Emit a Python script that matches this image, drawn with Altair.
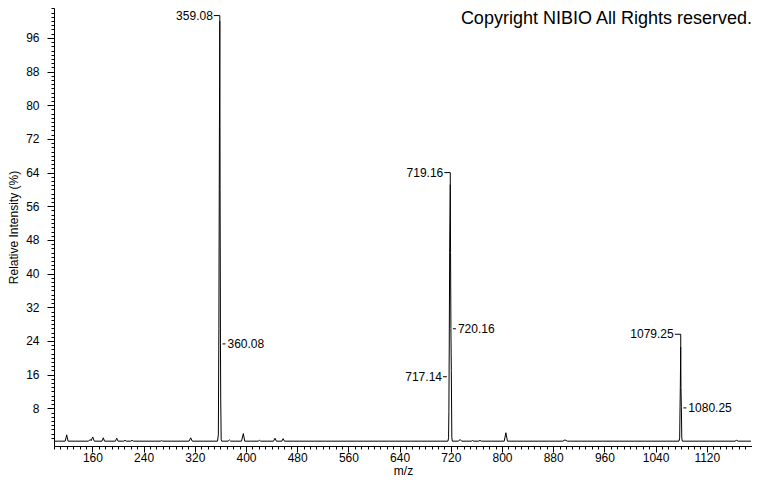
import altair as alt
import pandas as pd

# Spectrum vertices (m/z, relative intensity %)
mz = [
    101, 117.5, 119.8, 122,
    154, 156.5, 158, 160.5, 163,
    175, 177, 179,
    196, 198, 200,
    209, 211, 213,
    220, 222, 224,
    266, 268, 270,
    311, 313.5, 316,
    355.5, 356.8, 357.6, 358.5, 359.08, 359.5, 360.08, 360.5, 361.2, 362,
    372, 374, 376,
    393, 395.8, 398,
    419, 421, 423,
    443, 445.3, 447.5,
    456, 458, 460,
    715.5, 716.5, 717.0, 717.6, 718.3, 719.16, 719.6, 720.16, 720.8, 721.6, 722.4,
    732, 734.4, 737,
    752, 754, 756,
    763, 765.6, 768,
    803.5, 806, 808.5,
    895, 898.4, 902,
    1076.5, 1077.6, 1078.2, 1078.6, 1079.25, 1079.6, 1080.25, 1080.9, 1081.6,
    1164, 1166.7, 1169,
    1189,
]
intensity = [
    0.2, 0.2, 1.7, 0.2,
    0.2, 0.6, 0.3, 1.2, 0.2,
    0.2, 1.0, 0.2,
    0.2, 0.9, 0.2,
    0.2, 0.4, 0.2,
    0.2, 0.4, 0.2,
    0.2, 0.3, 0.2,
    0.2, 1.0, 0.2,
    0.2, 1.7, 27, 75, 100, 60, 23.3, 10, 0.5, 0.2,
    0.2, 0.5, 0.2,
    0.2, 2.0, 0.2,
    0.2, 0.4, 0.2,
    0.2, 0.9, 0.2,
    0.2, 0.8, 0.2,
    0.2, 1.0, 7.3, 24, 48, 61.2, 45, 26.9, 17, 1.0, 0.2,
    0.2, 0.6, 0.2,
    0.2, 0.35, 0.2,
    0.2, 0.35, 0.2,
    0.2, 2.2, 0.2,
    0.2, 0.5, 0.2,
    0.2, 1.0, 8.5, 13, 22.6, 13, 8.1, 1.0, 0.2,
    0.2, 0.4, 0.2,
    0.2,
]

# Peak labels
top_label_text = ["359.08", "719.16", "1079.25"]
top_label_mz = [359.08, 719.16, 1079.25]
top_label_level = [101.3, 64.0, 25.6]
top_label_peak = [100.0, 61.2, 22.6]

right_label_text = ["360.08", "720.16", "1080.25"]
right_label_mz = [360.08, 720.16, 1080.25]
right_label_level = [23.3, 26.9, 8.1]

left_label_text = ["717.14"]
left_label_mz = [717.14]
left_label_level = [15.5]

# Axis ticks
x_major = [160, 240, 320, 400, 480, 560, 640, 720, 800, 880, 960, 1040, 1120]
x_minor = list(range(100, 1191, 10))
y_major = [8, 16, 24, 32, 40, 48, 56, 64, 72, 80, 88, 96]
y_minor = list(range(1, 104))

x_domain = [100, 1190.6]
y_domain = [-0.95, 103.1]

FONT = "Liberation Sans"

spec_df = pd.DataFrame({"mz": mz, "intensity": intensity})
top_df = pd.DataFrame({"text": top_label_text, "mz": top_label_mz,
                       "level": top_label_level, "peak": top_label_peak})
right_df = pd.DataFrame({"text": right_label_text, "mz": right_label_mz,
                         "level": right_label_level})
left_df = pd.DataFrame({"text": left_label_text, "mz": left_label_mz,
                        "level": left_label_level})

xs = alt.Scale(domain=x_domain, nice=False, zero=False)
ys = alt.Scale(domain=y_domain, nice=False, zero=False)

line = alt.Chart(spec_df).mark_line(color="black", strokeWidth=1).encode(
    x=alt.X("mz:Q", scale=xs, axis=alt.Axis(
        values=x_major, orient="bottom", title="m/z", tickSize=6,
        labelPadding=0, titleY=24, titleBaseline="middle", grid=False,
        format="d")),
    y=alt.Y("intensity:Q", scale=ys, axis=alt.Axis(
        values=y_major, orient="left", title="Relative Intensity (%)",
        tickSize=7, labelPadding=8, titleX=-41, titleBaseline="middle",
        grid=False, format="d")),
)

minor = alt.Chart(spec_df).mark_line(opacity=0).encode(
    x=alt.X("mz:Q", scale=xs, axis=alt.Axis(
        values=x_minor, orient="bottom", labels=False, title=None,
        domain=False, tickSize=3, grid=False)),
    y=alt.Y("intensity:Q", scale=ys, axis=alt.Axis(
        values=y_minor, orient="left", labels=False, title=None,
        domain=False, tickSize=3, grid=False)),
)

top_h = alt.Chart(top_df).mark_rule(color="black", xOffset=-6, x2Offset=0).encode(
    x=alt.X("mz:Q", scale=xs, axis=None), x2="mz:Q",
    y=alt.Y("level:Q", scale=ys, axis=None))
top_v = alt.Chart(top_df).mark_rule(color="black").encode(
    x=alt.X("mz:Q", scale=xs, axis=None),
    y=alt.Y("level:Q", scale=ys, axis=None), y2="peak:Q")
top_t = alt.Chart(top_df).mark_text(align="right", baseline="middle", dx=-7,
                                    font=FONT, fontSize=12, color="black").encode(
    x=alt.X("mz:Q", scale=xs, axis=None),
    y=alt.Y("level:Q", scale=ys, axis=None), text="text:N")

right_h = alt.Chart(right_df).mark_rule(color="black", xOffset=2, x2Offset=5).encode(
    x=alt.X("mz:Q", scale=xs, axis=None), x2="mz:Q",
    y=alt.Y("level:Q", scale=ys, axis=None))
right_t = alt.Chart(right_df).mark_text(align="left", baseline="middle", dx=7,
                                        font=FONT, fontSize=12, color="black").encode(
    x=alt.X("mz:Q", scale=xs, axis=None),
    y=alt.Y("level:Q", scale=ys, axis=None), text="text:N")

left_h = alt.Chart(left_df).mark_rule(color="black", xOffset=-6, x2Offset=-2).encode(
    x=alt.X("mz:Q", scale=xs, axis=None), x2="mz:Q",
    y=alt.Y("level:Q", scale=ys, axis=None))
left_t = alt.Chart(left_df).mark_text(align="right", baseline="middle", dx=-7,
                                      font=FONT, fontSize=12, color="black").encode(
    x=alt.X("mz:Q", scale=xs, axis=None),
    y=alt.Y("level:Q", scale=ys, axis=None), text="text:N")

chart = alt.layer(
    line, minor, top_h, top_v, top_t, right_h, right_t, left_h, left_t
).resolve_axis(x="independent", y="independent").properties(
    width=698,
    height=438,
    padding={"left": 46, "top": 0, "right": 0, "bottom": 32},
    autosize=alt.AutoSizeParams(type="none"),
    background="white",
    title=alt.TitleParams(
        text="Copyright NIBIO All Rights reserved.",
        anchor="end", orient="top", frame="group", offset=-34,
        baseline="alphabetic", font=FONT, fontSize=18, fontWeight="normal",
        color="black", dx=0),
).configure_view(strokeWidth=0).configure_axis(
    labelFont=FONT, labelFontSize=12, labelColor="black",
    titleFont=FONT, titleFontSize=12, titleFontWeight="normal", titleColor="black",
    tickColor="black", domainColor="black", tickWidth=1, domainWidth=1,
)

chart.save("out.html", embed_options={"renderer": "svg", "actions": False})
